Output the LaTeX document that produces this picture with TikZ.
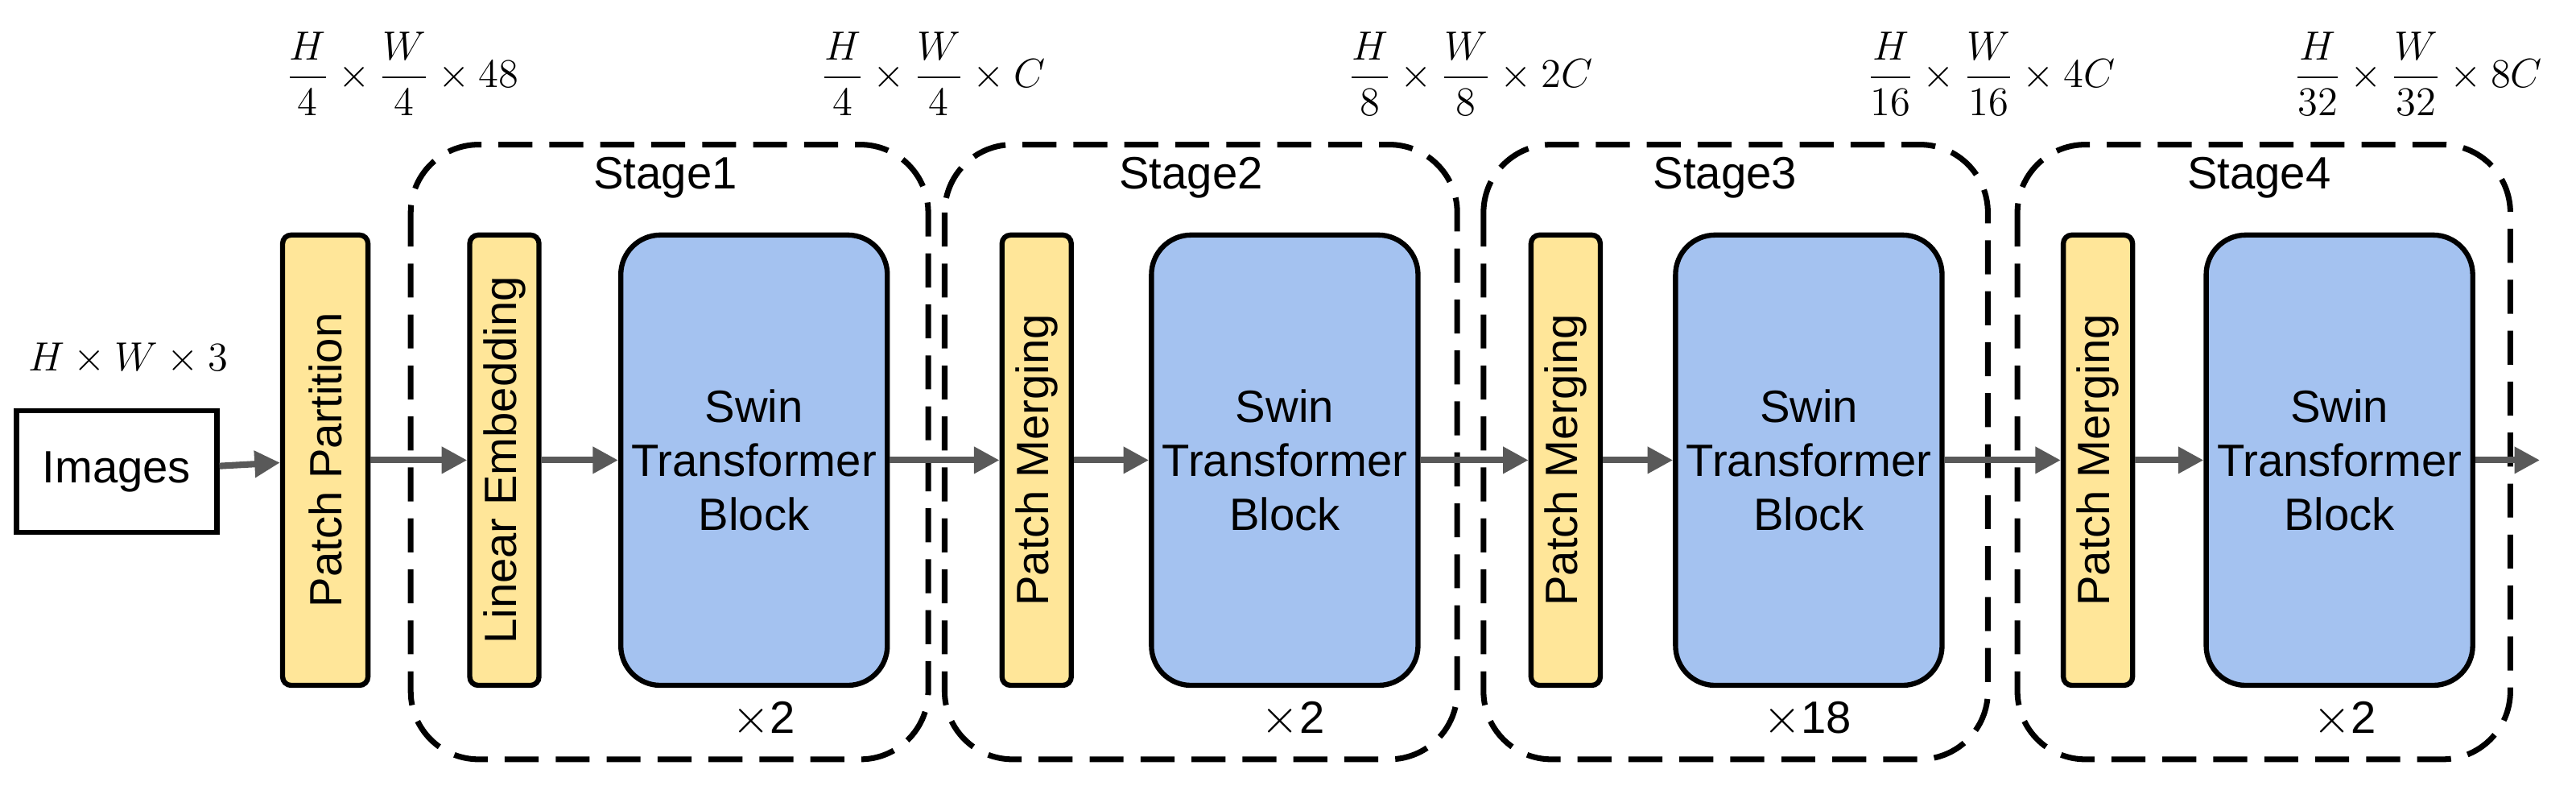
\documentclass[tikz,border=0pt]{standalone}
\usepackage{amsmath}
\usepackage{fontspec}
\setmainfont{Liberation Sans}
\usetikzlibrary{arrows.meta}
\definecolor{pyellow}{HTML}{FFE699}
\definecolor{sblue}{HTML}{A4C2F0}
\definecolor{agray}{HTML}{595959}
\begin{document}
\begin{tikzpicture}[
    x=0.020408cm, y=-0.020408cm,
    every node/.style={font=\fontsize{16}{19}\selectfont},
    thin box/.style={rectangle, rounded corners=3pt, draw, line width=1.8pt, fill=pyellow, rotate=90, minimum width=5.59cm, inner sep=0pt},
    swin/.style={rectangle, rounded corners=14pt, draw, line width=1.8pt, fill=sblue, minimum width=3.31cm, minimum height=5.59cm, align=center},
    stage/.style={draw, dashed, line width=2pt, dash pattern=on 12pt off 6pt, rounded corners=24pt},
    arrow/.style={-{Triangle[length=9pt,width=9pt]}, line width=2.3pt, agray},
    dim/.style={font=\fontsize{15}{18}\selectfont}
]
\useasboundingbox (0,0) rectangle (1568,478);

% stages
\draw[stage] (250,88) rectangle (565,462);
\draw[stage] (575,88) rectangle (887,462);
\draw[stage] (903,88) rectangle (1210,462);
\draw[stage] (1228,88) rectangle (1528,462);
\node (s1) at (405,108) {Stage1};
\node (s2) at (725,108) {Stage2};
\node (s3) at (1050,108) {Stage3};
\node (s4) at (1375,108) {Stage4};
\node (r1) at (465,438) {$\times$2};
\node (r2) at (787,438) {$\times$2};
\node (r3) at (1100,438) {$\times$18};
\node (r4) at (1427,438) {$\times$2};

% input
\node[draw, line width=1.8pt, minimum width=2.49cm, minimum height=1.51cm] (img) at (71,287) {Images};
\node[dim] (d0) at (78,218) {$H\times W\times 3$};

% blocks
\node[thin box, minimum height=1.06cm] (pp) at (198,280) {Patch Partition};
\node[thin box, minimum height=0.86cm] (le) at (307,280) {Linear Embedding};
\node[swin] (sw1) at (459,280) {Swin\\Transformer\\Block};
\node[thin box, minimum height=0.86cm] (pm2) at (631,280) {Patch Merging};
\node[swin] (sw2) at (782,280) {Swin\\Transformer\\Block};
\node[thin box, minimum height=0.86cm] (pm3) at (953,280) {Patch Merging};
\node[swin] (sw3) at (1101,280) {Swin\\Transformer\\Block};
\node[thin box, minimum height=0.86cm] (pm4) at (1277,280) {Patch Merging};
\node[swin] (sw4) at (1424,280) {Swin\\Transformer\\Block};
\coordinate (out) at (1546,280);

% dimensions
\node[dim] (d1) at (245,45) {$\dfrac{H}{4}\times\dfrac{W}{4}\times 48$};
\node[dim] (d2) at (568,45) {$\dfrac{H}{4}\times\dfrac{W}{4}\times C$};
\node[dim] (d3) at (895,45) {$\dfrac{H}{8}\times\dfrac{W}{8}\times 2C$};
\node[dim] (d4) at (1212,45) {$\dfrac{H}{16}\times\dfrac{W}{16}\times 4C$};
\node[dim] (d5) at (1472,45) {$\dfrac{H}{32}\times\dfrac{W}{32}\times 8C$};

% arrows
\draw[arrow] (img) -- (pp);
\draw[arrow] (pp) -- (le);
\draw[arrow] (le) -- (sw1);
\draw[arrow] (sw1) -- (pm2);
\draw[arrow] (pm2) -- (sw2);
\draw[arrow] (sw2) -- (pm3);
\draw[arrow] (pm3) -- (sw3);
\draw[arrow] (sw3) -- (pm4);
\draw[arrow] (pm4) -- (sw4);
\draw[arrow] (sw4) -- (out);

\end{tikzpicture}
\end{document}
